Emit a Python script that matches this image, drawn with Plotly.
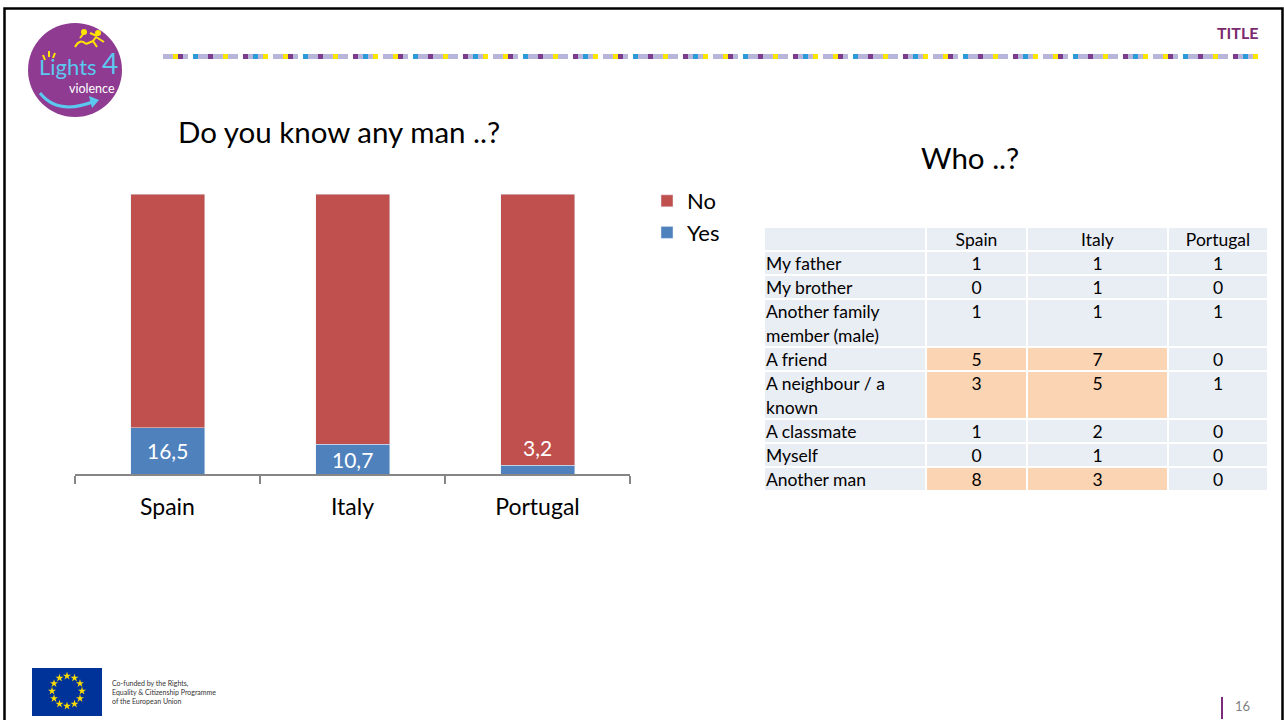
import math
import plotly.graph_objects as go

W, H = 1284, 720

# ---------------- data ----------------
categories = ["Spain", "Italy", "Portugal"]
yes_pct = [16.5, 10.7, 3.2]
no_pct = [83.5, 89.3, 96.8]

table_header = ["", "Spain", "Italy", "Portugal"]
who_labels = ["My father", "My brother", "Another family<br>member (male)", "A friend",
              "A neighbour / a<br>known", "A classmate", "Myself", "Another man"]
spain_counts = [1, 0, 1, 5, 3, 1, 0, 8]
italy_counts = [1, 1, 1, 7, 5, 2, 1, 3]
portugal_counts = [1, 0, 1, 0, 1, 0, 0, 0]

FONT = "Lato, Carlito, Calibri, sans-serif"
RED = "#C0504D"
BLUE = "#4F81BD"
CELL = "#E9EDF4"
PEACH = "#FBD4B4"


def px(x):
    return x / W


def py(y):
    return 1 - y / H


fig = go.Figure()

# ---------------- stacked bar chart ----------------
fig.add_trace(go.Bar(x=categories, y=yes_pct, name="Yes", marker_color=BLUE,
                     width=0.4, hoverinfo="skip"))
fig.add_trace(go.Bar(x=categories, y=no_pct, name="No", marker_color=RED,
                     width=0.4, hoverinfo="skip"))

annotations = []
for c, v in zip(categories, yes_pct):
    txt = f"{v:.1f}".replace(".", ",")
    if v >= 5:
        annotations.append(dict(x=c, y=v / 2, xref="x", yref="y", text=txt, showarrow=False,
                                font=dict(family=FONT, size=21, color="white")))
    else:
        annotations.append(dict(x=c, y=v, xref="x", yref="y", text=txt, showarrow=False,
                                yanchor="bottom", yshift=3,
                                font=dict(family=FONT, size=21, color="white")))

# ---------------- table (heatmap cells + text) ----------------
col_widths = [162, 101, 141, 100]
line_h = 24
text_off = 2.5
x_edges = [0]
for w in col_widths:
    x_edges.append(x_edges[-1] + w)
n_lines = [1] + [lab.count("<br>") + 1 for lab in who_labels]
y_edges = [0]
for n in n_lines:
    y_edges.append(y_edges[-1] + n * line_h)

z = [[0, 0, 0, 0]]
for s, it, pt in zip(spain_counts, italy_counts, portugal_counts):
    z.append([0, int(s >= 3), int(it >= 3), int(pt >= 3)])

fig.add_trace(go.Heatmap(z=z, x=x_edges, y=y_edges, xaxis="x3", yaxis="y3",
                         colorscale=[[0, CELL], [1, PEACH]], zmin=0, zmax=1,
                         showscale=False, xgap=2, ygap=2, hoverinfo="skip"))

col_centers = [(x_edges[k] + x_edges[k + 1]) / 2 for k in range(4)]
# header text
fig.add_trace(go.Scatter(x=col_centers[1:], y=[line_h / 2 + text_off] * 3, xaxis="x3",
                         yaxis="y3", mode="text", text=table_header[1:],
                         textposition="middle center",
                         textfont=dict(family=FONT, size=17.5, color="black"),
                         showlegend=False, hoverinfo="skip"))
# row labels (one point per text line)
lab_x, lab_y, lab_t = [], [], []
for r, lab in enumerate(who_labels):
    top = y_edges[r + 1]
    for k, part in enumerate(lab.split("<br>")):
        lab_x.append(2)
        lab_y.append(top + k * line_h + line_h / 2 + text_off)
        lab_t.append(part)
fig.add_trace(go.Scatter(x=lab_x, y=lab_y, xaxis="x3", yaxis="y3", mode="text", text=lab_t,
                         textposition="middle right",
                         textfont=dict(family=FONT, size=17.5, color="black"),
                         showlegend=False, hoverinfo="skip"))
# numbers
num_x, num_y, num_t = [], [], []
for ci, col in enumerate([spain_counts, italy_counts, portugal_counts], start=1):
    for r, v in enumerate(col):
        num_x.append(col_centers[ci])
        num_y.append(y_edges[r + 1] + line_h / 2 + text_off)
        num_t.append(str(v))
fig.add_trace(go.Scatter(x=num_x, y=num_y, xaxis="x3", yaxis="y3", mode="text", text=num_t,
                         textposition="middle center",
                         textfont=dict(family=FONT, size=17.5, color="black"),
                         showlegend=False, hoverinfo="skip"))

# ---------------- decorations (overlay pixel axis) ----------------
shapes = []
# slide border
shapes.append(dict(type="rect", xref="x2", yref="y2", x0=4.5, y0=8.5, x1=1282.5, y1=730,
                   line=dict(color="black", width=2.5)))

# coloured stripe
pattern = ["#B7B5DA", "#B7B5DA", "#FFE600", "#7D3B8E", "#B7B5DA", None, "#2A9AD8",
           "#B7B5DA", "#B7B5DA", "#7D3B8E", "#B7B5DA", "#B7B5DA", "#FFE600", "#B7B5DA",
           "#B7B5DA", None, "#7D3B8E", "#B7B5DA", "#2A9AD8", "#B7B5DA", "#FFE600", None]
xs = 163
i = 0
while xs < 1262:
    col = pattern[i % len(pattern)]
    if col:
        shapes.append(dict(type="rect", xref="x2", yref="y2", x0=xs, x1=xs + 5, y0=54, y1=59,
                           line=dict(width=0), fillcolor=col))
    xs += 5
    i += 1

# logo
shapes.append(dict(type="circle", xref="x2", yref="y2", x0=28, x1=122, y0=23, y1=117,
                   fillcolor="#8E3B91", line=dict(width=0)))
shapes.append(dict(type="path", xref="x2", yref="y2", path="M 40 93 Q 58 116 95 101",
                   line=dict(color="#5BC8F0", width=3)))
shapes.append(dict(type="path", xref="x2", yref="y2", path="M 89 96 L 99 100 L 92 108 Z",
                   fillcolor="#5BC8F0", line=dict(width=0)))
for p in ["M 43 55 L 45 60", "M 49 51 L 49 57", "M 55 53 L 53 58"]:
    shapes.append(dict(type="path", xref="x2", yref="y2", path=p,
                       line=dict(color="#FFE600", width=2)))
for p in ["M 75 47 Q 80 38 86 44", "M 80 38 L 84 33", "M 86 44 L 93 41 L 97 47",
          "M 93 41 L 96 37", "M 96 37 L 104 42", "M 90 33 L 97 36"]:
    shapes.append(dict(type="path", xref="x2", yref="y2", path=p,
                       line=dict(color="#FFE600", width=2)))
shapes.append(dict(type="circle", xref="x2", yref="y2", x0=81, x1=87, y0=29, y1=35,
                   fillcolor="#FFE600", line=dict(width=0)))
shapes.append(dict(type="circle", xref="x2", yref="y2", x0=95, x1=101, y0=30, y1=36,
                   fillcolor="#FFE600", line=dict(width=0)))

# EU flag
shapes.append(dict(type="rect", xref="x2", yref="y2", x0=32, x1=102, y0=668, y1=716,
                   fillcolor="#003399", line=dict(width=0), layer="below"))
# page number bar
shapes.append(dict(type="line", xref="x2", yref="y2", x0=1222, x1=1222, y0=697, y1=719,
                   line=dict(color="#7B2C7F", width=2)))

star_x = [67 + 15 * math.cos(2 * math.pi * k / 12) for k in range(12)]
star_y = [691 + 15 * math.sin(2 * math.pi * k / 12) for k in range(12)]
fig.add_trace(go.Scatter(x=star_x, y=star_y, xaxis="x2", yaxis="y2", mode="markers",
                         marker=dict(symbol="star", size=6, color="#FFDD00", line=dict(width=0)),
                         showlegend=False, hoverinfo="skip"))

deco_ann = [
    dict(text="Lights", x=99, y=66, xanchor="right",
         font=dict(family=FONT, size=22, color="#5BC8F0")),
    dict(text="4", x=100, y=63, xanchor="left",
         font=dict(family=FONT, size=28, color="#5BC8F0")),
    dict(text="violence", x=92, y=88, font=dict(family=FONT, size=12.5, color="white")),
    dict(text="<b>TITLE</b>", x=1237, y=32, font=dict(family=FONT, size=16, color="#7B2A6E")),
    dict(text="Do you know any man ..?", x=339, y=131,
         font=dict(family=FONT, size=29.5, color="black")),
    dict(text="Who ..?", x=970, y=157, font=dict(family=FONT, size=29.5, color="black")),
    dict(text="16", x=1242, y=706, font=dict(family=FONT, size=13, color="#7F7F7F")),
    dict(text="Co-funded by the Rights,<br>Equality &amp; Citizenship Programme<br>of the European Union",
         x=110, y=692, xanchor="left", align="left",
         font=dict(family=FONT, size=7, color="#333333")),
]
for a in deco_ann:
    a.update(xref="x2", yref="y2", showarrow=False)
    annotations.append(a)

fig.update_layout(
    width=W, height=H,
    margin=dict(l=0, r=0, t=0, b=0),
    paper_bgcolor="white", plot_bgcolor="rgba(0,0,0,0)",
    barmode="stack", bargap=0.6,
    font=dict(family=FONT, color="black"),
    xaxis=dict(domain=[px(75), px(630)], anchor="y", showline=True, linecolor="#868686",
               linewidth=1.5, ticks="outside", tickson="boundaries", ticklen=8,
               tickcolor="#868686", tickwidth=1.5, ticklabelstandoff=12,
               tickfont=dict(family=FONT, size=23, color="black"), fixedrange=True),
    yaxis=dict(domain=[py(474), py(194)], anchor="x", range=[0, 100], visible=False,
               fixedrange=True),
    xaxis2=dict(domain=[0, 1], anchor="y2", range=[0, W], visible=False, fixedrange=True),
    yaxis2=dict(domain=[0, 1], anchor="x2", range=[H, 0], visible=False, fixedrange=True),
    xaxis3=dict(domain=[px(764), px(1268)], anchor="y3", range=[0, x_edges[-1]],
                visible=False, fixedrange=True),
    yaxis3=dict(domain=[py(227 + y_edges[-1]), py(227)], anchor="x3",
                range=[y_edges[-1], 0], visible=False, fixedrange=True),
    legend=dict(x=px(647), y=py(180), xanchor="left", yanchor="top", traceorder="reversed",
                font=dict(family=FONT, size=22, color="black"), bgcolor="rgba(0,0,0,0)",
                itemwidth=30),
    showlegend=True,
    shapes=shapes,
    annotations=annotations,
)

fig.write_html("out.html", config={"displayModeBar": False},
               post_script="document.body.style.margin='0';document.body.style.overflow='hidden';")
